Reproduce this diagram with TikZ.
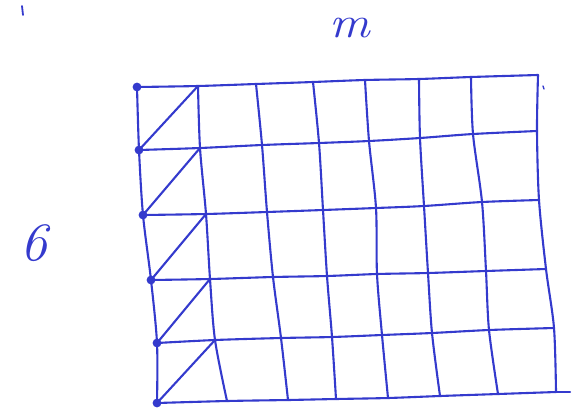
\documentclass[tikz,border=0pt]{standalone}
\begin{document}
\begin{tikzpicture}[x=1pt,y=-1pt,
  ink/.style={draw=penblue,line width=2.1pt,line cap=round,line join=round},
  dotmark/.style={fill=penblue},
  lbl/.style={text=penblue,inner sep=0pt,font=\itshape}]
\definecolor{penblue}{RGB}{52,58,205}
\useasboundingbox (0,0) rectangle (575,413);
% grid points: column i, row j
\coordinate (p00) at (137,87);  \coordinate (p01) at (139,150); \coordinate (p02) at (143,215);
\coordinate (p03) at (151,280); \coordinate (p04) at (157,343); \coordinate (p05) at (157,403);
\coordinate (p10) at (198,86);  \coordinate (p11) at (200,148); \coordinate (p12) at (206,214);
\coordinate (p13) at (210,279); \coordinate (p14) at (215,340); \coordinate (p15) at (227,401);
\coordinate (p20) at (256,84);  \coordinate (p21) at (262,145); \coordinate (p22) at (267,212);
\coordinate (p23) at (273,277); \coordinate (p24) at (281,338); \coordinate (p25) at (288,400);
\coordinate (p30) at (313,82);  \coordinate (p31) at (319,143); \coordinate (p32) at (323,210);
\coordinate (p33) at (327,276); \coordinate (p34) at (332,337); \coordinate (p35) at (336,399);
\coordinate (p40) at (365,80);  \coordinate (p41) at (369,141); \coordinate (p42) at (376,208);
\coordinate (p43) at (377,274); \coordinate (p44) at (382,335); \coordinate (p45) at (388,398);
\coordinate (p50) at (419,79);  \coordinate (p51) at (420,138); \coordinate (p52) at (424,206);
\coordinate (p53) at (428,273); \coordinate (p54) at (432,333); \coordinate (p55) at (440,396);
\coordinate (p60) at (471,77);  \coordinate (p61) at (473,134); \coordinate (p62) at (482,202);
\coordinate (p63) at (486,271); \coordinate (p64) at (489,330); \coordinate (p65) at (498,394);
\coordinate (p70) at (538,75);  \coordinate (p71) at (537,131); \coordinate (p72) at (539,200);
\coordinate (p73) at (546,269); \coordinate (p74) at (554,328); \coordinate (p75) at (556,392);
\coordinate (bend) at (570,392);
\coordinate (tickA) at (543,86); \coordinate (tickB) at (544,89);
\coordinate (markA) at (22,6); \coordinate (markB) at (23,15);
% vertical lines
\foreach \i in {0,...,7}
  \draw[ink] plot[smooth,tension=0.5] coordinates {(p\i0) (p\i1) (p\i2) (p\i3) (p\i4) (p\i5)};
% horizontal lines
\foreach \j in {0,...,5}
  \draw[ink] plot[smooth,tension=0.5] coordinates {(p0\j) (p1\j) (p2\j) (p3\j) (p4\j) (p5\j) (p6\j) (p7\j)};
\draw[ink] (p75) -- (bend);
% diagonals in the first column
\foreach \j [evaluate=\j as \k using int(\j+1)] in {0,...,4}
  \draw[ink] (p0\k) -- (p1\j);
% dots
\foreach \j in {0,...,5}
  \fill[dotmark] (p0\j) circle (4.4);
% stray marks
\draw[ink,line width=1.3pt] (tickA) -- (tickB);
\draw[ink,line width=1.8pt] (markA) -- (markB);
% labels
\node[lbl,font=\fontsize{44}{44}\selectfont\itshape,anchor=base,xscale=1.15] (mlab) at (350,37) {m};
\node[lbl,font=\fontsize{54}{54}\selectfont\itshape] (six) at (34,243) {6};
\end{tikzpicture}
\end{document}
